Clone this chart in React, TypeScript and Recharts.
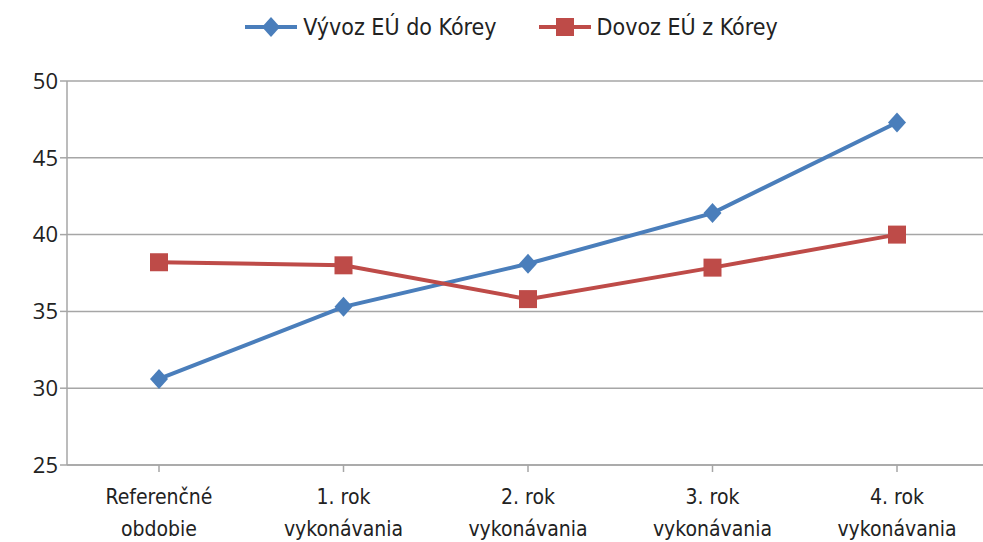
import { LineChart, Line, XAxis, YAxis, CartesianGrid } from 'recharts';

const categories = ['Referenčné obdobie', '1. rok vykonávania', '2. rok vykonávania', '3. rok vykonávania', '4. rok vykonávania'];
const exportValues = [30.6, 35.3, 38.1, 41.4, 47.3];
const importValues = [38.2, 38.0, 35.8, 37.85, 40.0];
const yTicks = [25, 30, 35, 40, 45, 50];

const BLUE = '#4A7EBB';
const RED = '#BE4B48';
const NARROW = "'DejaVu Sans Condensed', 'Liberation Sans Narrow', 'Liberation Sans', sans-serif";

const data = categories.map((c, i) => ({ name: c, vyvoz: exportValues[i], dovoz: importValues[i] }));

const Diamond = ({ cx, cy }: any) => (
  <path d={`M${cx},${cy - 10} L${cx + 9},${cy} L${cx},${cy + 10} L${cx - 9},${cy} Z`} fill={BLUE} />
);

const Square = ({ cx, cy }: any) => (
  <rect x={cx - 9} y={cy - 9} width={18} height={18} fill={RED} />
);

const CategoryTick = ({ x, y, payload }: any) => {
  const words = payload.value.split(' ');
  const lines = words.length > 2 ? [words.slice(0, 2).join(' '), words[2]] : words;
  return (
    <g>
      {lines.map((l: string, i: number) => (
        <text key={i} x={x} y={y + 30 + i * 32} textAnchor="middle" fontSize={21}
          fontFamily={NARROW} fill="#222">{l}</text>
      ))}
    </g>
  );
};

const LegendRow = () => (
  <div style={{ position: 'absolute', top: 12, left: 0, width: 983, display: 'flex', justifyContent: 'center',
    fontFamily: NARROW, fontSize: 23, color: '#222', paddingLeft: 38, boxSizing: 'border-box' }}>
    <svg width={56} height={30}>
      <line x1={2} y1={15} x2={54} y2={15} stroke={BLUE} strokeWidth={4} />
      <path d="M28,5 L37,15 L28,25 L19,15 Z" fill={BLUE} />
    </svg>
    <span style={{ marginLeft: 4, marginRight: 40, lineHeight: '30px' }}>Vývoz EÚ do Kórey</span>
    <svg width={56} height={30}>
      <line x1={2} y1={15} x2={54} y2={15} stroke={RED} strokeWidth={4} />
      <rect x={19} y={6} width={18} height={18} fill={RED} />
    </svg>
    <span style={{ marginLeft: 4, lineHeight: '30px' }}>Dovoz EÚ z Kórey</span>
  </div>
);

export default function App() {
  return (
    <div style={{ position: 'fixed', top: 0, left: 0, width: 983, height: 542, overflow: 'hidden', background: '#fff' }}>
      <LegendRow />
      <LineChart width={1000} height={542} data={data} margin={{ top: 81, right: 11, bottom: 0, left: 0 }}>
        <CartesianGrid vertical={false} stroke="#A6A6A6" strokeWidth={1.5} />
        <XAxis dataKey="name" tick={<CategoryTick />} tickLine={{ stroke: '#A6A6A6', strokeWidth: 1.5 }} tickSize={7}
          axisLine={{ stroke: '#A6A6A6', strokeWidth: 1.5 }} interval={0} height={77}
          padding={{ left: 92, right: 92 }} />
        <YAxis domain={[25, 50]} ticks={yTicks} width={67} tickSize={7}
          tick={{ fontSize: 22, fill: '#222', fontFamily: "'Open Sans', sans-serif" }}
          tickLine={{ stroke: '#A6A6A6', strokeWidth: 1.5 }} axisLine={{ stroke: '#A6A6A6', strokeWidth: 1.5 }} />
        <Line dataKey="vyvoz" stroke={BLUE} strokeWidth={4} dot={<Diamond />} isAnimationActive={false} />
        <Line dataKey="dovoz" stroke={RED} strokeWidth={4} dot={<Square />} isAnimationActive={false} />
      </LineChart>
    </div>
  );
}
